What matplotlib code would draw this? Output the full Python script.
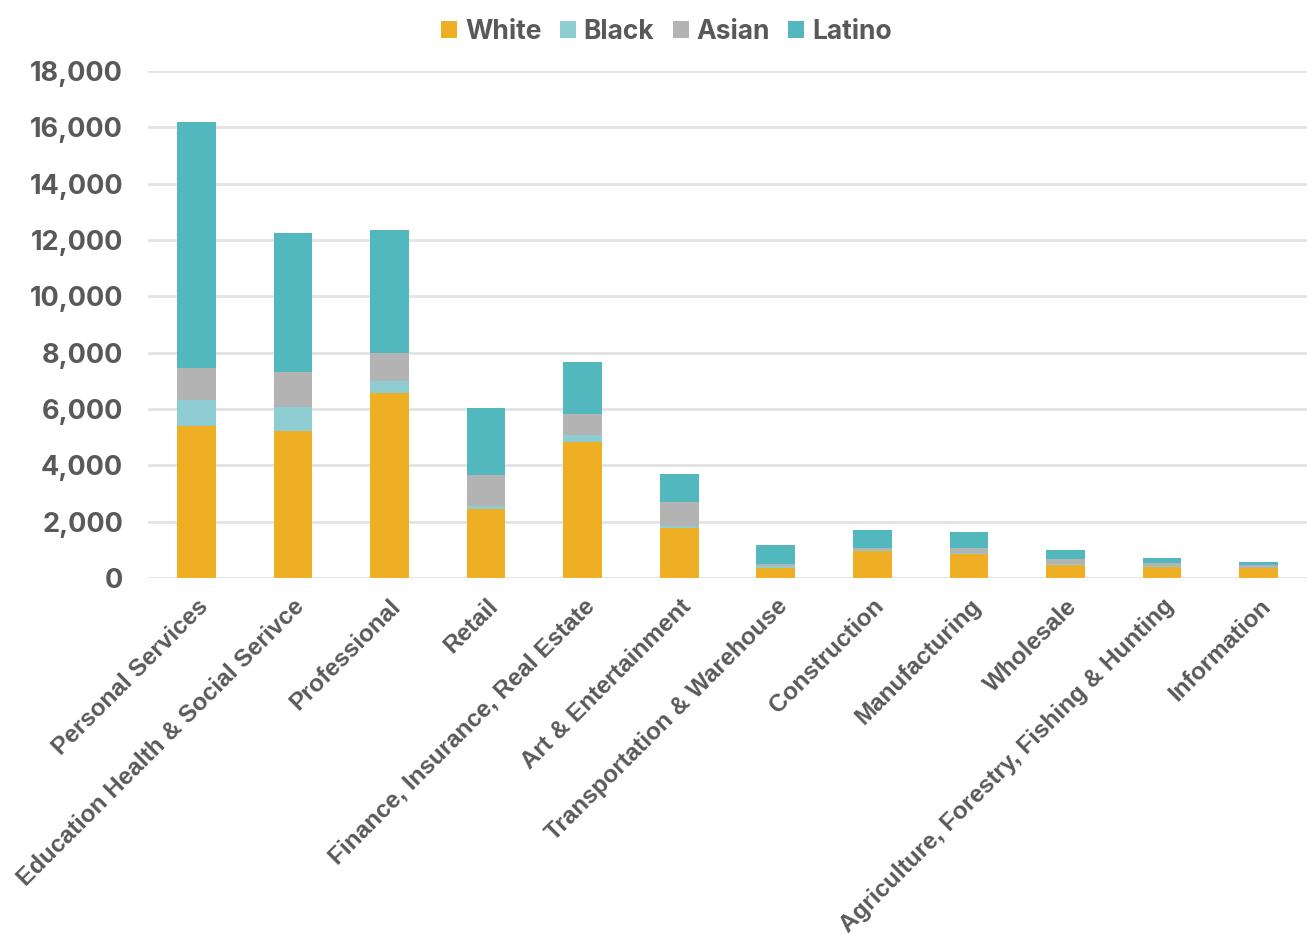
import numpy as np
import matplotlib.pyplot as plt
from matplotlib.ticker import FuncFormatter

# values
industries = ['Personal Services', 'Education Health & Social Serivce', 'Professional',
              'Retail', 'Finance, Insurance, Real Estate', 'Art & Entertainment',
              'Transportation & Warehouse', 'Construction', 'Manufacturing',
              'Wholesale', 'Agriculture, Forestry, Fishing & Hunting', 'Information']
white = [5400, 5220, 6560, 2440, 4820, 1780, 370, 960, 850, 460, 390, 350]
black = [920, 860, 430, 130, 240, 50, 40, 30, 50, 30, 20, 20]
asian = [1130, 1230, 990, 1100, 750, 880, 90, 90, 160, 190, 130, 90]
latino = [8740, 4940, 4370, 2350, 1850, 980, 680, 620, 590, 330, 180, 100]

series = [('White', white, '#EEAF25'), ('Black', black, '#8ECED3'),
          ('Asian', asian, '#B3B3B3'), ('Latino', latino, '#52B8BE')]

grey = '#595959'
fig = plt.figure(figsize=(13.07, 9.35), dpi=100)
ax = fig.add_axes([148/1307, 1-578/935, 1-148/1307, (578-71)/935])

x = np.arange(len(industries))
bottom = np.zeros(len(industries))
for name, vals, col in series:
    ax.bar(x, vals, 0.4, bottom=bottom, color=col, label=name, zorder=3)
    bottom += np.array(vals)

ax.set_xlim(-0.5, len(industries)-0.5)
ax.set_ylim(0, 18000)
ax.set_yticks(np.arange(0, 18001, 2000))
ax.yaxis.set_major_formatter(FuncFormatter(lambda v, p: f'{int(v):,}'))
ax.grid(axis='y', color='#E3E3E3', linewidth=2, zorder=0)
for s in ax.spines.values():
    s.set_visible(False)
ax.tick_params(axis='both', length=0)
ax.tick_params(axis='y', pad=18)
for lab in ax.get_yticklabels():
    lab.set_fontfamily('Inter')
    lab.set_fontweight('bold')
    lab.set_fontsize(19.5)
    lab.set_color(grey)

ax.set_xticks(x)
ax.set_xticklabels(industries, rotation=45, ha='right', rotation_mode='anchor',
                   fontfamily='Liberation Sans', fontweight='bold', fontsize=17.5, color=grey)
ax.tick_params(axis='x', pad=12)

leg = fig.legend(loc='upper center', bbox_to_anchor=(0.51, 1.005), ncol=4, frameon=False,
                 handlelength=0.6, handleheight=0.6, handletextpad=0.3, columnspacing=0.7,
                 prop={'family': 'Inter', 'weight': 'bold', 'size': 19})
for t in leg.get_texts():
    t.set_color(grey)

fig.savefig('out.png', dpi=100)
